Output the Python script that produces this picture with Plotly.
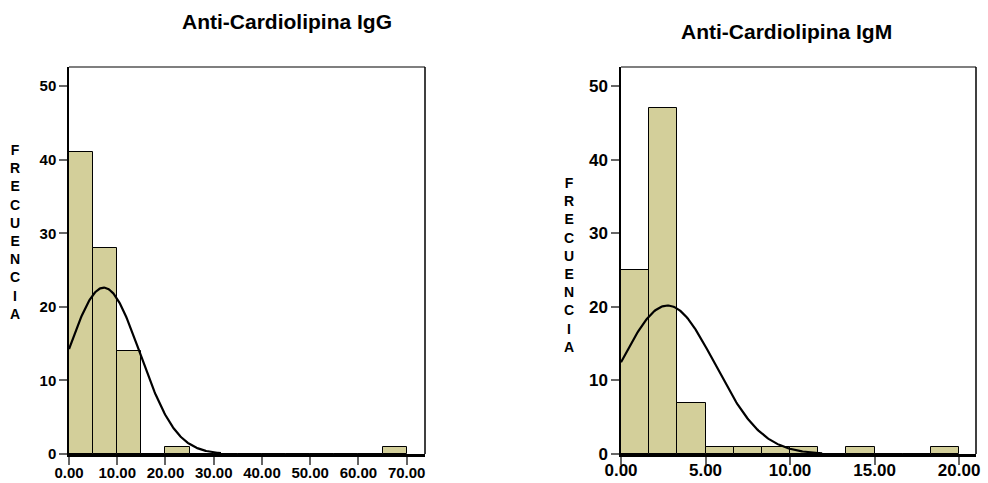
import numpy as np
import plotly.graph_objects as go

# ---- Data ----
# IgG histogram (bin width 5)
igg_bin_left = [0, 5, 10, 15, 20, 25, 30, 35, 40, 45, 50, 55, 60, 65]
igg_counts = [41, 28, 14, 0, 1, 0, 0, 0, 0, 0, 0, 0, 0, 1]
igg_bin_width = 5.0
igg_mean, igg_sd, igg_n = 7.2, 7.5, 85
igg_curve_range = (0.0, 31.5)
igg_ticks = [0, 10, 20, 30, 40, 50, 60, 70]

# IgM histogram (bin width 5/3)
igm_bin_width = 5.0 / 3.0
igm_bin_left = [i * 5.0 / 3.0 for i in range(12)]
igm_counts = [25, 47, 7, 1, 1, 1, 1, 0, 1, 0, 0, 1]
igm_mean, igm_sd, igm_n = 2.75, 2.8, 85
igm_curve_range = (0.0, 11.9)
igm_ticks = [0, 5, 10, 15, 20]

y_ticks = [0, 10, 20, 30, 40, 50]

titles = ["Anti-Cardiolipina IgG", "Anti-Cardiolipina IgM"]
ylabel = "FRECUENCIA"

BAR_COLOR = "#D3CF9A"
FONT = "Liberation Sans, Arial, sans-serif"


def normal_curve(mean, sd, n, width, rng):
    xs = np.linspace(rng[0], rng[1], 200)
    ys = n * width / (sd * np.sqrt(2 * np.pi)) * np.exp(-0.5 * ((xs - mean) / sd) ** 2)
    return xs, ys


fig = go.Figure()

# IgG bars
fig.add_trace(go.Bar(
    x=[b + igg_bin_width / 2 for b in igg_bin_left], y=igg_counts, width=igg_bin_width,
    marker=dict(color=BAR_COLOR, line=dict(color="black", width=1)),
    xaxis="x", yaxis="y", showlegend=False, hoverinfo="skip"))
cx, cy = normal_curve(igg_mean, igg_sd, igg_n, igg_bin_width, igg_curve_range)
fig.add_trace(go.Scatter(x=cx, y=cy, mode="lines", line=dict(color="black", width=2.2),
                         xaxis="x", yaxis="y", showlegend=False, hoverinfo="skip"))

# IgM bars
fig.add_trace(go.Bar(
    x=[b + igm_bin_width / 2 for b in igm_bin_left], y=igm_counts, width=igm_bin_width,
    marker=dict(color=BAR_COLOR, line=dict(color="black", width=1)),
    xaxis="x2", yaxis="y2", showlegend=False, hoverinfo="skip"))
cx2, cy2 = normal_curve(igm_mean, igm_sd, igm_n, igm_bin_width, igm_curve_range)
fig.add_trace(go.Scatter(x=cx2, y=cy2, mode="lines", line=dict(color="black", width=2.2),
                         xaxis="x2", yaxis="y2", showlegend=False, hoverinfo="skip"))

W, H = 988, 483
left_dom = [69 / W, 425 / W]
right_dom = [621 / W, 976 / W]
y_dom = [(H - 454) / H, (H - 67) / H]

common_x = dict(showgrid=False, zeroline=False, showline=True, linecolor="black", linewidth=2.5,
                ticks="outside", ticklen=8, tickcolor="#666666", tickwidth=1.5,
                tickformat=".2f", mirror=False, automargin=False)
common_y = dict(showgrid=False, zeroline=False, showline=True, linecolor="black", linewidth=1.5,
                ticks="outside", ticklen=8, tickcolor="#666666", tickwidth=1.5,
                range=[0, 52.6], tickvals=y_ticks, mirror=False, automargin=False)

fig.update_layout(
    width=W, height=H, margin=dict(l=0, r=0, t=0, b=0, autoexpand=False),
    paper_bgcolor="white", plot_bgcolor="white", bargap=0,
    font=dict(family=FONT, color="black"),
    xaxis=dict(domain=left_dom, range=[0, 73.8], tickvals=igg_ticks, anchor="y", ticklabelstandoff=-5,
               tickfont=dict(size=15, family=FONT, color="black", weight="bold"), **common_x),
    yaxis=dict(domain=y_dom, anchor="x",
               tickfont=dict(size=15, family=FONT, color="black", weight="bold"), **common_y),
    xaxis2=dict(domain=right_dom, range=[0, 21.0], tickvals=igm_ticks, anchor="y2", ticklabelstandoff=-9,
                tickfont=dict(size=17, family=FONT, color="black", weight="bold"), **common_x),
    yaxis2=dict(domain=y_dom, anchor="x2",
                tickfont=dict(size=17, family=FONT, color="black", weight="bold"), **common_y),
)

# frame top (grey) and right (black) borders
for xd in (left_dom, right_dom):
    fig.add_shape(type="line", xref="paper", yref="paper", x0=xd[0], x1=xd[1], y0=y_dom[1], y1=y_dom[1],
                  line=dict(color="#555555", width=1.5))
    fig.add_shape(type="line", xref="paper", yref="paper", x0=xd[1], x1=xd[1], y0=y_dom[0], y1=y_dom[1],
                  line=dict(color="black", width=1.5))

# titles
fig.add_annotation(x=286.5 / W, y=1 - 21.5 / H, xref="paper", yref="paper", text=titles[0],
                   showarrow=False, xanchor="center", yanchor="middle",
                   font=dict(size=21, family=FONT, color="black", weight="bold"))
fig.add_annotation(x=786 / W, y=1 - 32 / H, xref="paper", yref="paper", text=titles[1],
                   showarrow=False, xanchor="center", yanchor="middle",
                   font=dict(size=21, family=FONT, color="black", weight="bold"))

# vertical stacked y labels
stacked = "<br>".join(list(ylabel))
fig.add_annotation(x=15 / W, y=1 - 231.5 / H, xref="paper", yref="paper", text=stacked,
                   showarrow=False, xanchor="center", yanchor="middle",
                   font=dict(size=14, family=FONT, color="black", weight="bold"))
fig.add_annotation(x=569 / W, y=1 - 264.5 / H, xref="paper", yref="paper", text=stacked,
                   showarrow=False, xanchor="center", yanchor="middle",
                   font=dict(size=14, family=FONT, color="black", weight="bold"))

fig.write_html("out.html")
